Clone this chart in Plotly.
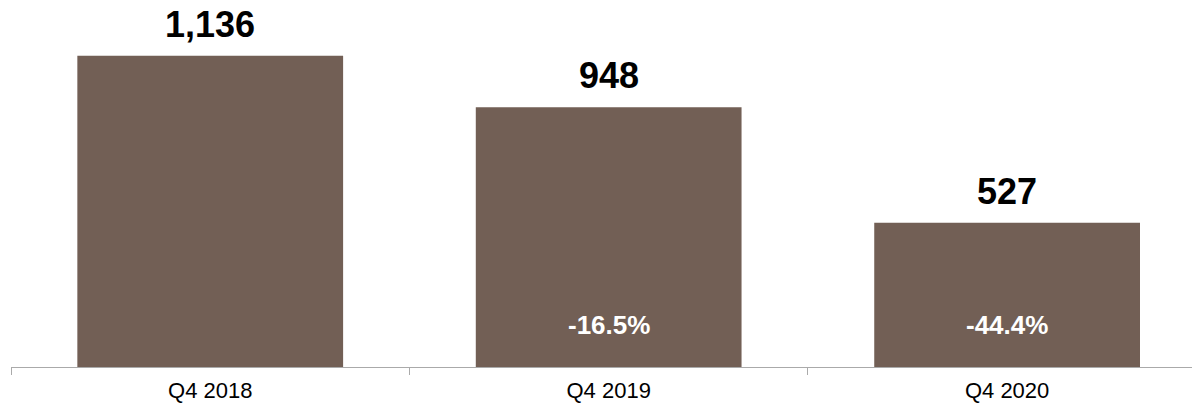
import plotly.graph_objects as go

categories = ["Q4 2018", "Q4 2019", "Q4 2020"]
values = [1136, 948, 527]
value_labels = ["1,136", "948", "527"]
change_labels = ["", "-16.5%", "-44.4%"]

bar_color = "#725F55"
font_family = "Liberation Sans, Arial, Helvetica, sans-serif"

fig = go.Figure()
fig.add_trace(go.Bar(
    x=categories, y=values, marker=dict(color=bar_color, line=dict(width=0)),
    width=0.667, hoverinfo="skip",
))

annotations = []
for c, v, lab in zip(categories, values, value_labels):
    annotations.append(dict(
        x=c, y=v, xref="x", yref="y", text="<b>%s</b>" % lab, showarrow=False,
        yanchor="bottom", yshift=9,
        font=dict(family=font_family, size=36, color="#000000"),
    ))
for c, lab in zip(categories, change_labels):
    if lab:
        annotations.append(dict(
            x=c, y=0, xref="x", yref="y", text="<b>%s</b>" % lab, showarrow=False,
            yanchor="bottom", yshift=25,
            font=dict(family=font_family, size=26, color="#FFFFFF"),
        ))

fig.update_layout(
    width=1192, height=405,
    margin=dict(l=11, r=0, t=0, b=38),
    paper_bgcolor="white", plot_bgcolor="white",
    showlegend=False,
    annotations=annotations,
    xaxis=dict(
        type="category", range=[-0.5, 2.464],
        showline=True, linecolor="#AAAAAA", linewidth=1,
        ticks="outside", tickson="boundaries", ticklen=7, tickcolor="#AAAAAA",
        ticklabelstandoff=4,
        tickfont=dict(family=font_family, size=22, color="#000000"),
        showgrid=False, zeroline=False,
    ),
    yaxis=dict(
        range=[0, 1340], visible=False, showgrid=False, zeroline=False,
    ),
)

fig.write_html("out.html")
